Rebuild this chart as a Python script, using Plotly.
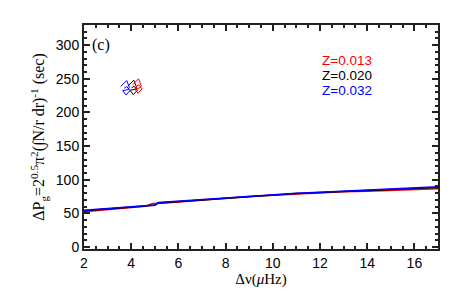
import plotly.graph_objects as go

# Model lines: Delta nu (muHz) vs Delta P_g (sec)
nu_red = [2.0, 3.0, 4.0, 4.6, 4.9, 5.3, 6.0, 7.0, 8.0, 9.0, 10.0, 11.0, 12.0, 13.0, 14.0, 15.0, 16.0, 17.0]
p_red = [52.5, 55.5, 58.5, 60.5, 64.5, 65.0, 67.0, 70.0, 72.5, 75.0, 77.0, 79.0, 80.5, 82.0, 83.0, 84.5, 85.5, 86.5]

nu_black = [2.0, 3.0, 4.0, 5.0, 5.15, 6.0, 7.0, 8.0, 9.0, 10.0, 11.0, 12.0, 13.0, 14.0, 15.0, 16.0, 17.0]
p_black = [54.0, 56.5, 59.0, 62.0, 65.5, 67.5, 70.5, 73.0, 75.5, 77.5, 79.5, 81.0, 82.5, 84.0, 85.5, 87.0, 88.5]

nu_blue = [2.0, 3.0, 4.0, 5.0, 5.15, 6.0, 7.0, 8.0, 9.0, 10.0, 11.0, 12.0, 13.0, 14.0, 15.0, 16.0, 17.0]
p_blue = [54.5, 57.0, 59.5, 62.5, 66.0, 68.0, 71.0, 73.5, 76.0, 78.0, 80.0, 81.5, 83.0, 84.5, 86.0, 88.0, 89.5]

# Small early tracks near (4, 235)
nu_blue_trk = [3.55, 3.70, 3.81, 3.92, 3.88, 3.64, 3.78, 3.95, 3.81, 3.70]
p_blue_trk = [238.5, 244.0, 247.5, 237.5, 234.0, 232.5, 226.0, 232.5, 238.5, 236.0]
nu_black_trk = [3.86, 4.00, 4.11, 4.22, 4.18, 3.95, 4.09, 4.26, 4.12, 4.01]
p_black_trk = [239.0, 244.5, 248.0, 238.0, 234.5, 233.0, 226.5, 233.0, 239.0, 236.5]
nu_red_trk = [4.06, 4.20, 4.31, 4.42, 4.38, 4.15, 4.29, 4.46, 4.32, 4.21]
p_red_trk = [241.0, 246.5, 250.0, 240.0, 236.5, 235.0, 228.5, 235.0, 241.0, 238.5]

labels = ["Z=0.013", "Z=0.020", "Z=0.032"]
colors = ["#ff0000", "#000000", "#0000ff"]

FONT = "Liberation Sans"
SERIF = "Liberation Serif"

fig = go.Figure()
for nu, p, c in [(nu_red, p_red, colors[0]), (nu_black, p_black, colors[1]), (nu_blue, p_blue, colors[2])]:
    fig.add_trace(go.Scatter(x=nu, y=p, mode="lines", line=dict(color=c, width=1.5), showlegend=False))
for nu, p, c in [(nu_blue_trk, p_blue_trk, colors[2]), (nu_black_trk, p_black_trk, colors[1]), (nu_red_trk, p_red_trk, colors[0])]:
    fig.add_trace(go.Scatter(x=nu, y=p, mode="lines", line=dict(color=c, width=1), showlegend=False))

for i, (lab, c) in enumerate(zip(labels, colors)):
    fig.add_annotation(x=0.667, y=0.842 - i * 0.068, xref="paper", yref="paper", text=lab,
                       showarrow=False, xanchor="left", yanchor="middle",
                       font=dict(family=FONT, size=13.5, color=c))

fig.add_annotation(x=0.018, y=0.91, xref="paper", yref="paper", text="(c)", showarrow=False,
                   xanchor="left", yanchor="middle", font=dict(family=SERIF, size=16, color="black"))

axis_common = dict(showline=True, linecolor="#222", linewidth=2, mirror="allticks",
                   ticks="inside", tickcolor="#222", tickwidth=1.5, ticklen=6,
                   showgrid=False, zeroline=False, automargin=False,
                   tickfont=dict(family=FONT, size=14, color="black"))

fig.update_xaxes(range=[2, 17], dtick=2, tick0=2,
                 minor=dict(dtick=0.5, ticks="inside", ticklen=3, tickcolor="#222", tickwidth=1.5, showgrid=False),
                 title=dict(text="Δν(<i>μ</i>Hz)", font=dict(family=SERIF, size=15, color="black"), standoff=2),
                 **axis_common)
fig.update_yaxes(range=[-3, 330], dtick=50, tick0=0,
                 minor=dict(dtick=10, ticks="inside", ticklen=3, tickcolor="#222", tickwidth=1.5, showgrid=False),
                 title=dict(text="ΔP<sub>g</sub>=2<sup>0.5</sup>π<sup>2</sup>(∫N/r dr)<sup>-1</sup> (sec)",
                            font=dict(family=SERIF, size=16, color="black"), standoff=7),
                 **axis_common)

# page body has an 8px margin, so offsets compensate for it
fig.update_layout(width=463, height=302, margin=dict(l=76, r=33, t=17, b=61),
                  plot_bgcolor="white", paper_bgcolor="white")

fig.write_html("out.html")
